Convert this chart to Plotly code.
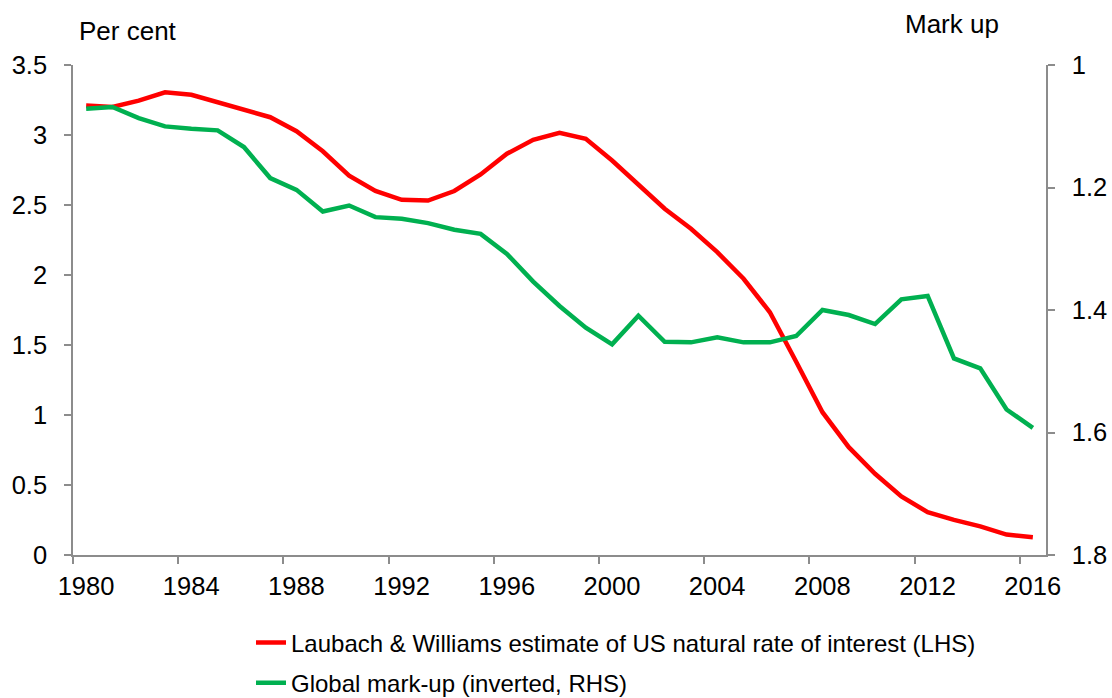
import plotly.graph_objects as go

years = list(range(1980, 2017))

natural_rate = [3.21, 3.20, 3.245, 3.305, 3.287, 3.234, 3.18, 3.127, 3.027, 2.884,
                2.71, 2.60, 2.537, 2.532, 2.60, 2.718, 2.866, 2.966, 3.016, 2.973,
                2.818, 2.64, 2.473, 2.33, 2.163, 1.973, 1.734, 1.38, 1.02, 0.77,
                0.58, 0.418, 0.306, 0.251, 0.204, 0.146, 0.127]

markup = [1.0713, 1.0686, 1.0866, 1.1002, 1.104, 1.1067, 1.134, 1.1846, 1.2038, 1.2392,
          1.2294, 1.2484, 1.2512, 1.2582, 1.269, 1.2757, 1.3084, 1.3537, 1.3935, 1.4289,
          1.4561, 1.4093, 1.4518, 1.4528, 1.4446, 1.4528, 1.4528, 1.4425, 1.40, 1.4082,
          1.4229, 1.3825, 1.3771, 1.479, 1.4953, 1.5624, 1.5925]

left_ticks = [0, 0.5, 1, 1.5, 2, 2.5, 3, 3.5]
left_labels = ["0", "0.5", "1", "1.5", "2", "2.5", "3", "3.5"]
right_ticks = [1.0, 1.2, 1.4, 1.6, 1.8]
right_labels = ["1", "1.2", "1.4", "1.6", "1.8"]
label_years = list(range(1980, 2017, 4))

FONT = "Liberation Sans, Arial, sans-serif"
AXIS_COLOR = "#8c8c8c"

fig = go.Figure()
fig.add_trace(go.Scatter(
    x=years, y=natural_rate, mode="lines",
    name="Laubach & Williams estimate of US natural rate of interest (LHS)",
    line=dict(color="#ff0000", width=4.5),
    legendgroup="a", yaxis="y",
))
fig.add_trace(go.Scatter(
    x=years, y=markup, mode="lines",
    name="Global mark-up (inverted, RHS)",
    line=dict(color="#00b050", width=4.5),
    legendgroup="b", yaxis="y2",
))

fig.update_layout(
    width=1112, height=698,
    margin=dict(l=73, r=66, t=65, b=143, autoexpand=False),
    paper_bgcolor="white", plot_bgcolor="white",
    font=dict(family=FONT, color="black", size=25),
    showlegend=True,
    legend=dict(
        x=(251 - 73) / 973, xanchor="left",
        y=(554.5 - 620) / 490, yanchor="top",
        font=dict(size=24, family=FONT),
        tracegroupgap=6,
        bgcolor="rgba(0,0,0,0)",
    ),
    xaxis=dict(
        range=[1979.5, 2016.5],
        tickmode="array",
        tickvals=[y - 0.5 for y in label_years],
        ticktext=[str(y) for y in label_years],
        ticklabelshift=13,
        ticks="outside", ticklen=7, tickcolor=AXIS_COLOR, tickwidth=1.5,
        ticklabelstandoff=1,
        showline=True, linecolor=AXIS_COLOR, linewidth=1.5,
        showgrid=False, zeroline=False, automargin=False,
        tickfont=dict(size=25.5),
    ),
    yaxis=dict(
        range=[0, 3.5],
        tickmode="array", tickvals=left_ticks, ticktext=left_labels,
        ticks="outside", ticklen=7, tickcolor=AXIS_COLOR, tickwidth=1.5,
        ticklabelstandoff=12,
        showline=True, linecolor=AXIS_COLOR, linewidth=1.5,
        showgrid=False, zeroline=False, automargin=False,
        tickfont=dict(size=25.5),
    ),
    yaxis2=dict(
        range=[1.8, 1.0],
        overlaying="y", side="right",
        tickmode="array", tickvals=right_ticks, ticktext=right_labels,
        ticks="outside", ticklen=7, tickcolor=AXIS_COLOR, tickwidth=1.5,
        ticklabelstandoff=12,
        showline=True, linecolor=AXIS_COLOR, linewidth=1.5,
        showgrid=False, zeroline=False, automargin=False,
        tickfont=dict(size=25.5),
    ),
    annotations=[
        dict(text="Per cent", xref="paper", yref="paper",
             x=(77 - 73) / 973, y=1 + (65 - 31) / 490,
             xanchor="left", yanchor="middle", showarrow=False,
             font=dict(size=26, family=FONT)),
        dict(text="Mark up", xref="paper", yref="paper",
             x=(903 - 73) / 973, y=1 + (65 - 24) / 490,
             xanchor="left", yanchor="middle", showarrow=False,
             font=dict(size=26, family=FONT)),
    ],
)

fig.write_html(
    "out.html",
    config={"displayModeBar": False},
    post_script="document.body.style.margin='0';document.body.style.overflow='hidden';",
)
